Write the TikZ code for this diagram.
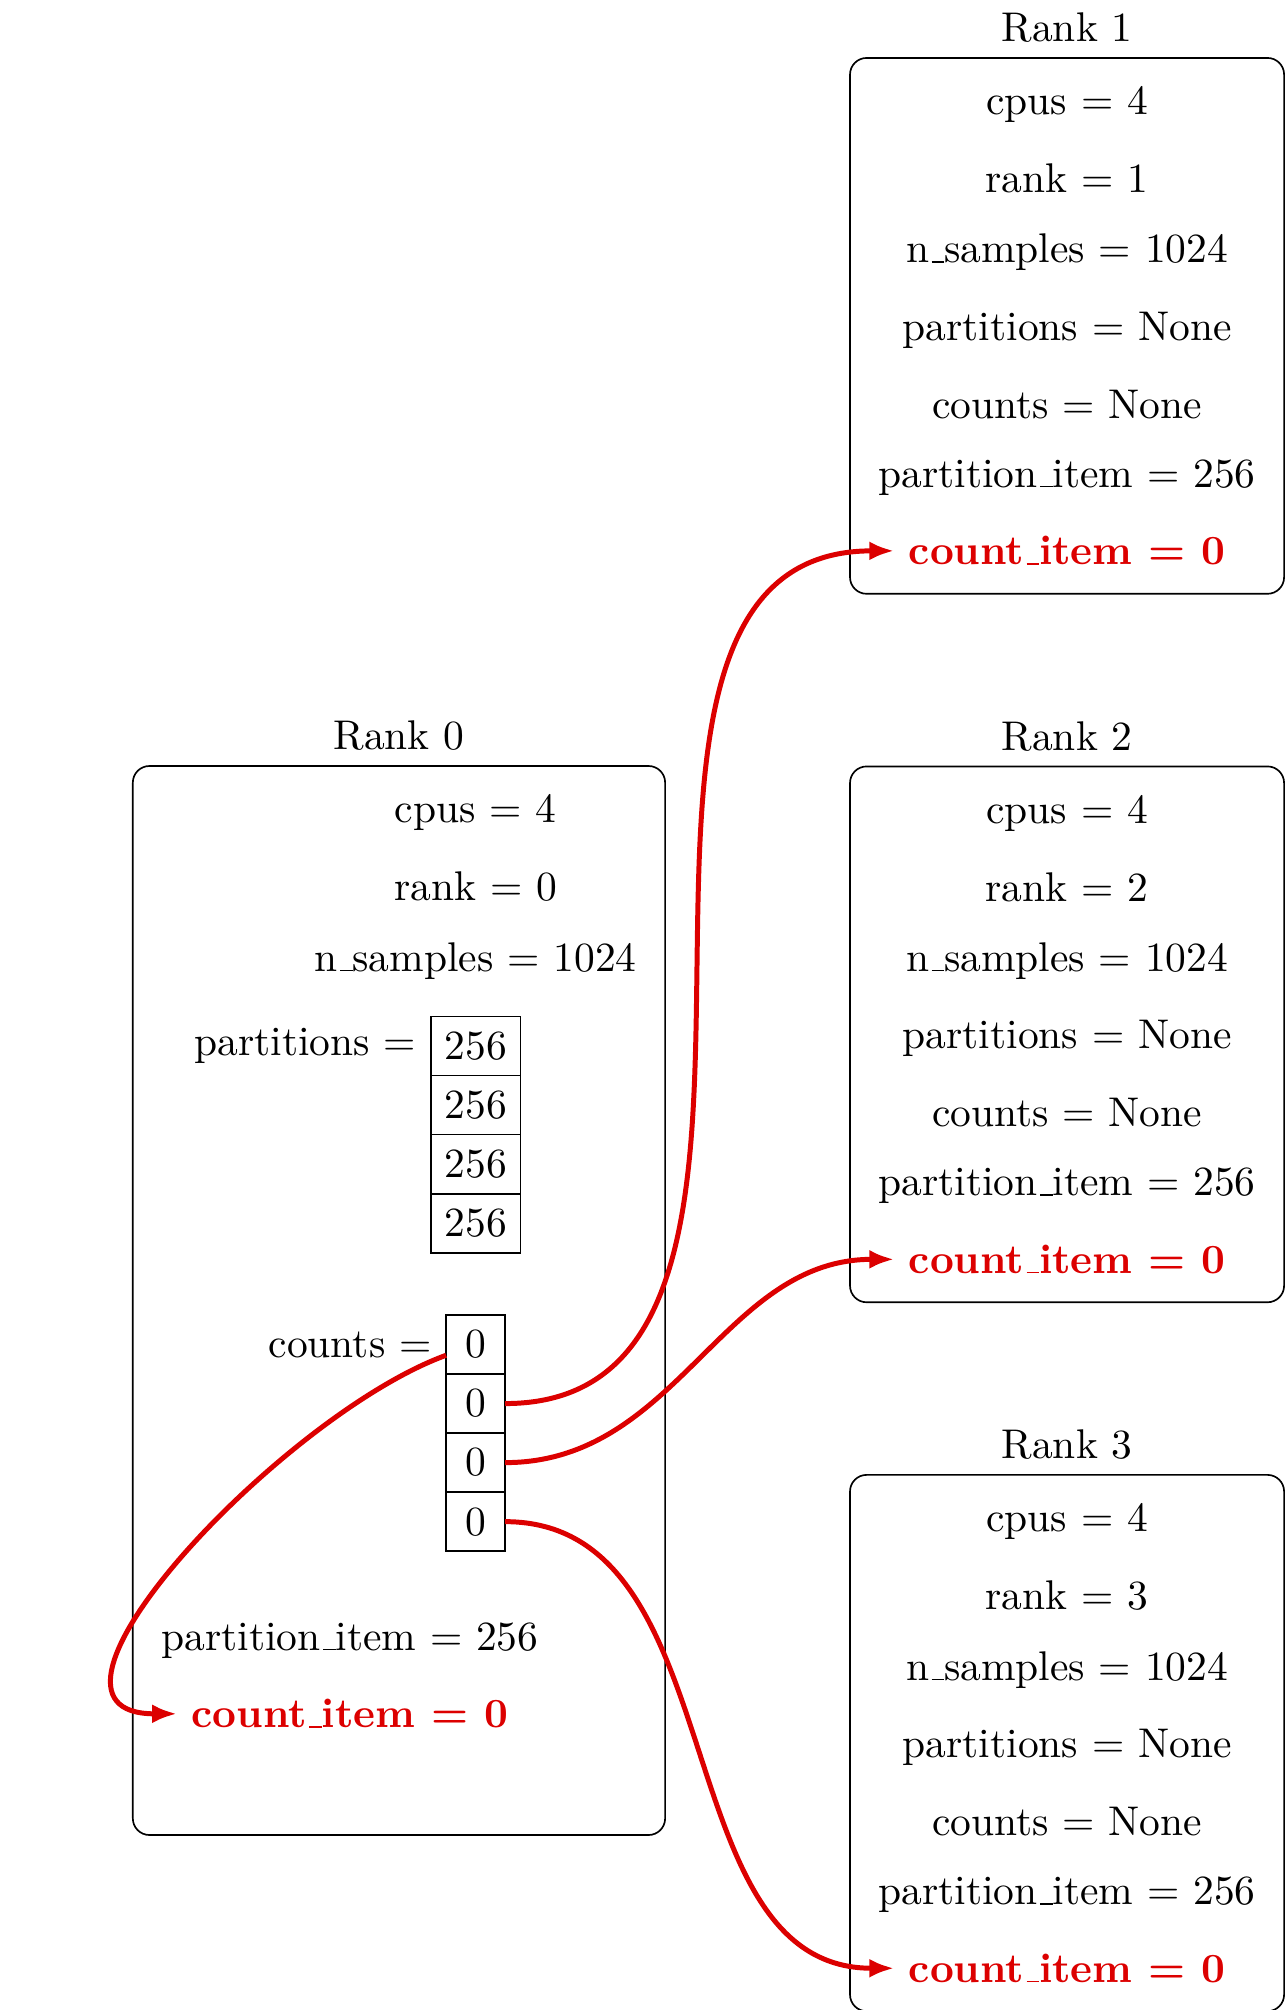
\documentclass[tikz,border=0pt]{standalone}
\usetikzlibrary{positioning,fit,arrows.meta}
\definecolor{itemred}{RGB}{220,0,0}
\newcommand{\usc}{\leavevmode\kern.06em\vbox{\hrule width.3em}}

\tikzset{
	cell/.style={draw, minimum size=5mm, outer sep=0pt},
	countitem/.style={text=itemred, font=\bfseries},
	rankbox/.style={draw, rounded corners},
	send/.style={itemred, very thick, -{Latex[length=6pt, width=4.6pt]}},
}

\begin{document}
\begin{tikzpicture}[x=1pt, y=1pt, node distance=1mm]
	\useasboundingbox (0, 0) rectangle (309.6, -484.3);
	
	% rank 0 holds the full arrays
	\node[anchor=base] (cpus0) at (114.6, -198.2) {cpus = 4};
	\node[below=of cpus0] (rank0) {rank = 0};
	\node[below=of rank0] (ns0) {n\usc samples = 1024};
	\node[cell, below=5.4pt of ns0] (p1) {256};
	\foreach \i [count=\j from 2] in {1, 2, 3} \node[cell, below=0pt of p\i] (p\j) {256};
	\node[left=0pt of p1] (plabel) {partitions =};
	\node[cell, below=15pt of p4] (c1) {0};
	\foreach \i [count=\j from 2] in {1, 2, 3} \node[cell, below=0pt of c\i] (c\j) {0};
	\node[left=0pt of c1] (clabel) {counts =};
	\node[anchor=base] (pi0) at (84.3, -397.6) {partition\usc item = 256};
	\node[countitem, below=of pi0] (ci0) {count\usc item = 0};
	\coordinate (bot0) at (84.3, -438.8);
	\node[rankbox, fit=(cpus0)(ns0)(plabel)(p4)(c4)(pi0)(ci0)(bot0), label=above:Rank 0] (box0) {};
	
	% the other ranks
	\foreach \r in {1, 2, 3} {
		\node[anchor=base] (cpus\r) at (257.1, {-27.6 - (\r - 1)*170.7}) {cpus = 4};
		\node[below=of cpus\r] (rank\r) {rank = \r};
		\node[below=of rank\r] (ns\r) {n\usc samples = 1024};
		\node[below=of ns\r] (part\r) {partitions = None};
		\node[below=of part\r] (cnt\r) {counts = None};
		\node[below=of cnt\r] (pi\r) {partition\usc item = 256};
		\node[countitem, below=of pi\r] (ci\r) {count\usc item = 0};
		\node[rankbox, fit=(cpus\r)(pi\r)(ci\r), label=above:Rank \r] (box\r) {};
	}
	
	\draw[send] (c1) to[out=200, in=180] (ci0);
	\foreach \i/\j in {2/1, 3/2, 4/3} \draw[send] (c\i) to[out=0, in=180] (ci\j);
\end{tikzpicture}
\end{document}
